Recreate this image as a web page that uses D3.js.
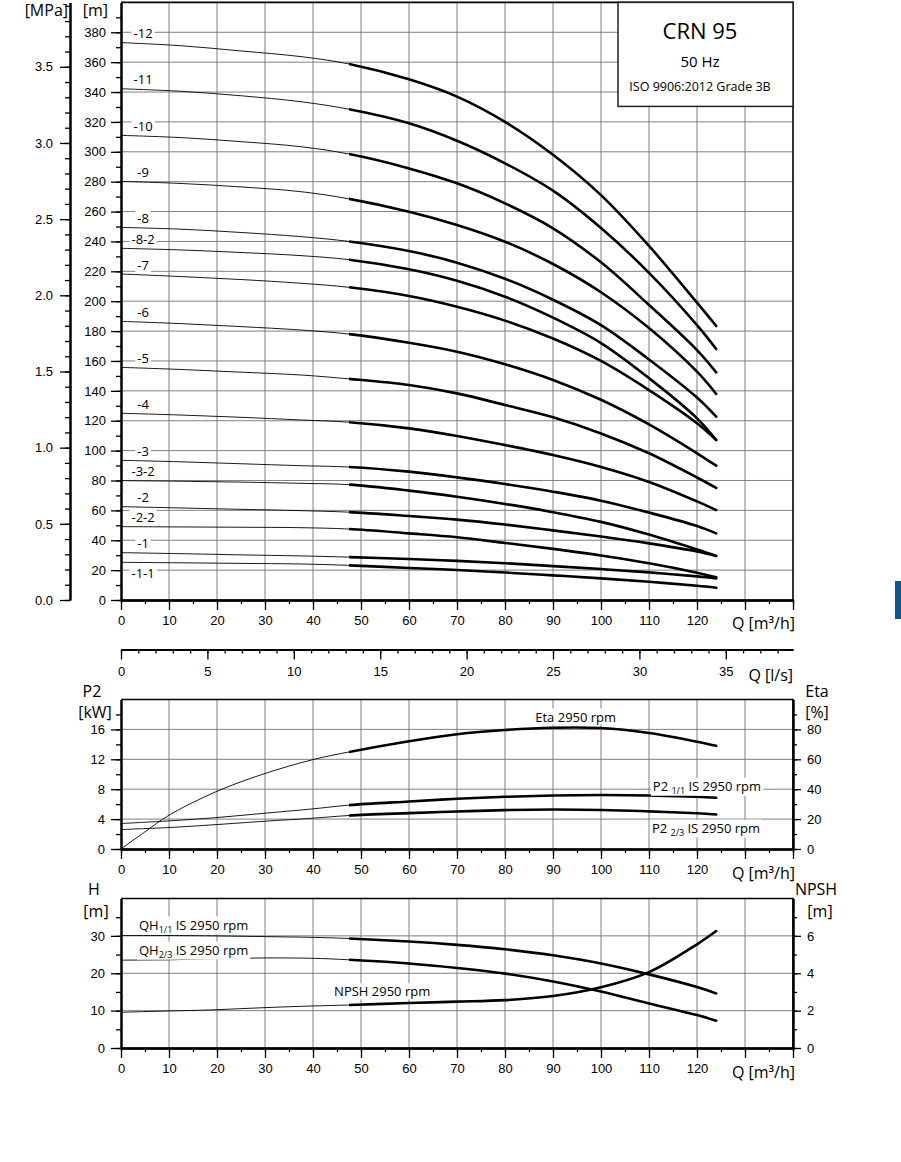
<!DOCTYPE html>
<html>
<head>
<meta charset="utf-8">
<script src="https://cdn.jsdelivr.net/npm/d3@7/dist/d3.min.js"></script>
<style>
  body { margin: 0; background: #fff; }
  svg { display: block; font-family: "Open Sans", "Noto Sans", sans-serif; }
  .grid line { stroke: #727272; stroke-width: 0.9; }
  .ax path, .ax line { stroke: #000; }
  .ax .domain { stroke-width: 2; }
  .ax text { font-size: 13px; fill: #000; }
  .lbl { font-size: 13px; fill: #000; }
</style>
</head>
<body>
<svg id="chart" width="901" height="1162"></svg>
<script>
// ---- data ----
// stage curves, head in m against flow in m3/h
const flow = [0, 12.5, 25, 37.5, 47.5, 60, 70, 80, 90, 100, 110, 120, 124];
const head_12  = [373.1, 371, 367.5, 363.7, 358.8, 348.5, 336.9, 320, 298, 271, 237, 199, 183.4];
const head_11  = [342.2, 340.5, 337.5, 333.5, 328.5, 319.1, 307.4, 292.3, 274, 249, 219, 184, 168];
const head_10  = [311.0, 309.5, 306.8, 303.4, 298.5, 288.9, 278.9, 265.5, 248.8, 226, 197.5, 167.3, 152.4];
const head_9   = [280.2, 278.8, 276.5, 273.3, 268.5, 259.9, 251, 239.8, 224.9, 206, 182, 152.8, 137.9];
const head_8   = [249.4, 248.2, 246, 243.2, 240, 233.6, 225.8, 215, 201, 184, 161, 135.5, 122.7];
const head_8_2 = [235.4, 234.3, 232.6, 230.5, 227.8, 221.4, 213.7, 203, 189, 172, 148.5, 121.6, 107.1];
const head_7   = [218.2, 216.5, 214.5, 212, 209.3, 203.5, 196.3, 187, 175, 160, 140.5, 118.3, 107.1];
const head_6   = [186.5, 185, 183, 180.7, 178, 172.2, 166.2, 157.8, 147.3, 134, 117.5, 98.2, 89.9];
const head_5   = [155.7, 154.3, 152.5, 150.6, 148, 143.9, 138.3, 130.5, 122.3, 111.5, 98.2, 82, 75];
const head_4   = [125.0, 123.8, 122.3, 120.5, 119, 114.9, 109.8, 103.7, 97, 89, 79, 66, 60.2];
const head_3   = [93.5, 92.5, 91.2, 89.9, 89, 85.9, 82.1, 77.6, 72.5, 66.5, 58.5, 49.5, 44.6];
const head_3_2 = [79.9, 79.5, 78.9, 78.1, 77.2, 73.2, 69.1, 64.3, 58.8, 52.3, 43.8, 33.8, 29.5];
const head_2   = [62.5, 61.6, 60.7, 59.8, 58.8, 56.2, 53.8, 50.5, 46.6, 42.5, 37.9, 32.5, 29.5];
const head_2_2 = [49.1, 48.9, 48.7, 48.4, 47.5, 44.6, 42, 38.2, 34.2, 29.8, 24.6, 18.3, 15.3];
const head_1   = [31.7, 31, 30.2, 29.5, 28.7, 27.4, 26.2, 24.6, 22.7, 20.7, 18.5, 15.8, 14.5];
const head_1_1 = [25.2, 24.9, 24.5, 24.1, 23.2, 21.4, 20.1, 18.4, 16.5, 14.5, 12.2, 9.5, 8.2];

const stageNames = ["-12", "-11", "-10", "-9", "-8", "-8-2", "-7", "-6", "-5", "-4", "-3", "-3-2", "-2", "-2-2", "-1", "-1-1"];
const stageHeads = [head_12, head_11, head_10, head_9, head_8, head_8_2, head_7, head_6, head_5, head_4, head_3, head_3_2, head_2, head_2_2, head_1, head_1_1];
const labelsBelow = ["-1-1"];

// single stage curves (power, efficiency, QH, NPSH)
const perfFlow  = [0, 5, 10, 20, 30, 40, 47.5, 60, 70, 80, 90, 100, 110, 120, 124];
const eta       = [0, 11.5, 22.6, 38.6, 50.5, 59.8, 64.9, 72.1, 76.8, 79.6, 81.1, 80.9, 77.6, 71.8, 69];
const p2Full    = [3.41, 3.58, 3.76, 4.21, 4.79, 5.37, 5.87, 6.36, 6.72, 6.98, 7.15, 7.22, 7.16, 6.98, 6.85];
const p2Reduced = [2.6, 2.73, 2.87, 3.27, 3.72, 4.12, 4.48, 4.8, 5.02, 5.2, 5.28, 5.22, 5.03, 4.78, 4.62];
const qhFull    = [30.1, 30.1, 30.1, 30.0, 29.8, 29.6, 29.3, 28.5, 27.6, 26.4, 24.8, 22.6, 19.7, 16.3, 14.6];
const qhReduced = [23.5, 23.55, 23.6, 23.9, 24.1, 24.0, 23.6, 22.6, 21.4, 19.9, 17.8, 15.1, 11.9, 8.8, 7.3];
const npsh      = [1.91, 1.95, 1.98, 2.05, 2.16, 2.25, 2.3, 2.41, 2.48, 2.56, 2.78, 3.25, 4.06, 5.55, 6.26];

const thickFrom = 47.5;   // curves get bold from here on
const M_PER_MPA = 101.97;
const M3H_PER_LS = 3.6;

// ---- scales ----
const x = d3.scaleLinear().domain([0, 140]).range([121, 793]);
const xLs = d3.scaleLinear().domain([0, 140 / M3H_PER_LS]).range([121, 793]);
const yHead = d3.scaleLinear().domain([0, 400]).range([600, 2.4]);
const yMPa = d3.scaleLinear().domain([0, 400 / M_PER_MPA]).range([600, 2.4]);
const yP2 = d3.scaleLinear().domain([0, 20]).range([849, 699.5]);
const yEta = d3.scaleLinear().domain([0, 100]).range([849, 699.5]);
const yH = d3.scaleLinear().domain([0, 40]).range([1048, 898.5]);
const yNpsh = d3.scaleLinear().domain([0, 8]).range([1048, 898.5]);

const svg = d3.select('#chart');
svg.append('rect').attr('width', 901).attr('height', 1162).attr('fill', '#fff');

const defs = svg.append('defs');
defs.append('clipPath').attr('id', 'boldPart')
  .append('rect')
    .attr('x', x(thickFrom)).attr('y', 0)
    .attr('width', x(140) - x(thickFrom)).attr('height', 1162);

// grid for one panel
function drawGrid(yScale, yVals) {
  const g = svg.append('g').attr('class', 'grid');
  const [yBottom, yTop] = yScale.range();
  g.selectAll('line.v').data(d3.range(10, 140, 10)).enter()
    .append('line').attr('class', 'v')
      .attr('x1', d => x(d)).attr('x2', d => x(d))
      .attr('y1', yTop).attr('y2', yBottom);
  g.selectAll('line.h').data(yVals).enter()
    .append('line').attr('class', 'h')
      .attr('x1', x(0)).attr('x2', x(140))
      .attr('y1', d => yScale(d)).attr('y2', d => yScale(d));
}

function drawFrame(yScale) {
  const [yBottom, yTop] = yScale.range();
  svg.append('path')
    .attr('d', `M${x(0)},${yTop}H${x(140)}V${yBottom}`)
    .attr('fill', 'none').attr('stroke', '#000').attr('stroke-width', 1.6);
}

// axis with long labelled ticks and short minor ticks
function drawAxis(axisFn, scale, tx, ty, majors, minors, fmt, majorLen, minorLen, pad) {
  const g = svg.append('g').attr('class', 'ax').attr('transform', `translate(${tx},${ty})`);
  g.append('g').call(axisFn(scale).tickValues(minors).tickSize(minorLen).tickSizeOuter(0).tickFormat(''));
  g.append('g').call(axisFn(scale).tickValues(majors).tickSize(majorLen).tickSizeOuter(0)
    .tickPadding(pad).tickFormat(fmt));
  g.selectAll('line').attr('stroke-width', 1.3);
  return g;
}

// the flow axis under each panel, long unlabelled ticks at 130 and 140
function drawFlowAxis(ty) {
  drawAxis(d3.axisBottom, x, 0, ty, d3.range(0, 121, 10), d3.range(0, 141, 5), d3.format('d'), 10, 4, 6)
    .call(g => g.append('g').call(d3.axisBottom(x).tickValues([130, 140]).tickSize(10).tickFormat('').tickSizeOuter(0))
      .selectAll('line').attr('stroke-width', 1.3));
}

function curve(xs, ys, xScale, yScale) {
  return d3.line()
    .x(d => xScale(d[0])).y(d => yScale(d[1]))
    .curve(d3.curveCatmullRom.alpha(0.5))(xs.map((q, i) => [q, ys[i]]));
}

// thin over the whole range, bold from thickFrom to the end
function drawCurve(xs, ys, yScale) {
  const d = curve(xs, ys, x, yScale);
  svg.append('path').attr('d', d).attr('fill', 'none').attr('stroke', '#000').attr('stroke-width', 0.9);
  svg.append('path').attr('d', d).attr('fill', 'none').attr('stroke', '#000')
    .attr('stroke-width', 2.6).attr('stroke-linecap', 'round')
    .attr('clip-path', 'url(#boldPart)');
}

// text with a white patch behind it
function label(tx, ty, parts, anchor) {
  const g = svg.append('g');
  const t = g.append('text').attr('class', 'lbl')
    .attr('x', tx).attr('y', ty).attr('dy', '0.35em')
    .attr('text-anchor', anchor || 'start');
  parts.forEach(p => {
    const s = t.append('tspan').text(p.text);
    if (p.sub) s.attr('font-size', '9px').attr('dy', 3);
    if (p.up) s.attr('dy', -3);
  });
  const b = t.node().getBBox();
  g.insert('rect', 'text')
    .attr('x', b.x - 2).attr('y', b.y + 1).attr('width', b.width + 4).attr('height', b.height - 2)
    .attr('fill', '#fff');
  return t;
}

function axisTitle(tx, ty, txt, size, anchor) {
  return svg.append('text').attr('x', tx).attr('y', ty)
    .attr('font-size', size).attr('text-anchor', anchor || 'start').text(txt);
}

// ================= head chart =================
drawGrid(yHead, d3.range(20, 400, 20));
drawFrame(yHead);

drawAxis(d3.axisLeft, yHead, x(0), 0, d3.range(0, 381, 20), d3.range(0, 400, 10), d3.format('d'), 10, 5, 5);
drawAxis(d3.axisLeft, yMPa, 70, 0, d3.range(0, 3.51, 0.5), d3.range(0, 3.91, 0.1), d3.format('.1f'), 10, 5, 7);
drawFlowAxis(yHead(0));

axisTitle(68, 16, '[MPa]', '16px', 'end');
axisTitle(108, 16, '[m]', '16px', 'end');
axisTitle(795, 629, 'Q [m³/h]', '16px', 'end');

stageHeads.forEach((h, i) => {
  drawCurve(flow, h, yHead);
  const below = labelsBelow.includes(stageNames[i]);
  label(x(4.6), yHead(h[0]) + (below ? 11 : -9), [{text: stageNames[i]}], 'middle');
});

// title box
const box = svg.append('g');
box.append('rect')
  .attr('x', 618).attr('y', yHead(400)).attr('width', x(140) - 618).attr('height', 104)
  .attr('fill', '#fff').attr('stroke', '#222').attr('stroke-width', 1.5);
box.append('text').attr('x', 700).attr('y', 39).attr('text-anchor', 'middle').attr('font-size', '22px').text('CRN 95');
box.append('text').attr('x', 700).attr('y', 67).attr('text-anchor', 'middle').attr('font-size', '15px').text('50 Hz');
box.append('text').attr('x', 700).attr('y', 90.5).attr('text-anchor', 'middle').attr('font-size', '12.5px').text('ISO 9906:2012 Grade 3B');

// flow in l/s
drawAxis(d3.axisBottom, xLs, 0, 649.5, d3.range(0, 36, 5), d3.range(0, 39, 1), d3.format('d'), 10, 4, 7);
axisTitle(793, 681, 'Q [l/s]', '16px', 'end');

// ================= power / efficiency =================
drawGrid(yP2, [4, 8, 12, 16]);
drawFrame(yP2);
drawAxis(d3.axisLeft, yP2, x(0), 0, [0, 4, 8, 12, 16], d3.range(0, 20, 2), d3.format('d'), 10, 5, 6);
drawAxis(d3.axisRight, yEta, x(140), 0, [0, 20, 40, 60, 80], d3.range(0, 100, 10), d3.format('d'), 8, 4, 6);
drawFlowAxis(yP2(0));

axisTitle(92, 697, 'P2', '16px', 'middle');
axisTitle(95, 718, '[kW]', '16px', 'middle');
axisTitle(817, 697, 'Eta', '16px', 'middle');
axisTitle(817, 718, '[%]', '16px', 'middle');
axisTitle(795, 879, 'Q [m³/h]', '16px', 'end');

drawCurve(perfFlow, eta, yEta);
drawCurve(perfFlow, p2Full, yP2);
drawCurve(perfFlow, p2Reduced, yP2);

label(x(86.3), yEta(88.3), [{text: 'Eta 2950 rpm'}]);
label(x(110.8), yP2(8.4), [{text: 'P2 '}, {text: '1/1', sub: true}, {text: ' IS 2950 rpm', up: true}]);
label(x(110.6), yP2(2.8), [{text: 'P2 '}, {text: '2/3', sub: true}, {text: ' IS 2950 rpm', up: true}]);

// ================= QH / NPSH =================
drawGrid(yH, [10, 20, 30]);
drawFrame(yH);
drawAxis(d3.axisLeft, yH, x(0), 0, [0, 10, 20, 30], d3.range(0, 40, 5), d3.format('d'), 10, 5, 6);
drawAxis(d3.axisRight, yNpsh, x(140), 0, [0, 2, 4, 6], d3.range(0, 8, 1), d3.format('d'), 8, 4, 6);
drawFlowAxis(yH(0));

axisTitle(94, 895, 'H', '16px', 'middle');
axisTitle(96, 917, '[m]', '16px', 'middle');
axisTitle(816, 895, 'NPSH', '16px', 'middle');
axisTitle(820, 917, '[m]', '16px', 'middle');
axisTitle(795, 1078, 'Q [m³/h]', '16px', 'end');

drawCurve(perfFlow, qhFull, yH);
drawCurve(perfFlow, qhReduced, yH);
drawCurve(perfFlow, npsh, yNpsh);

label(x(3.75), yH(32.9), [{text: 'QH'}, {text: '1/1', sub: true}, {text: ' IS 2950 rpm', up: true}]);
label(x(3.75), yH(26.2), [{text: 'QH'}, {text: '2/3', sub: true}, {text: ' IS 2950 rpm', up: true}]);
label(x(44.4), yNpsh(3.01), [{text: 'NPSH 2950 rpm'}]);

// the cut-off blue tab on the right edge of the page
svg.append('rect').attr('x', 895).attr('y', 581).attr('width', 6).attr('height', 38).attr('fill', '#0d5689');
</script>
</body>
</html>
